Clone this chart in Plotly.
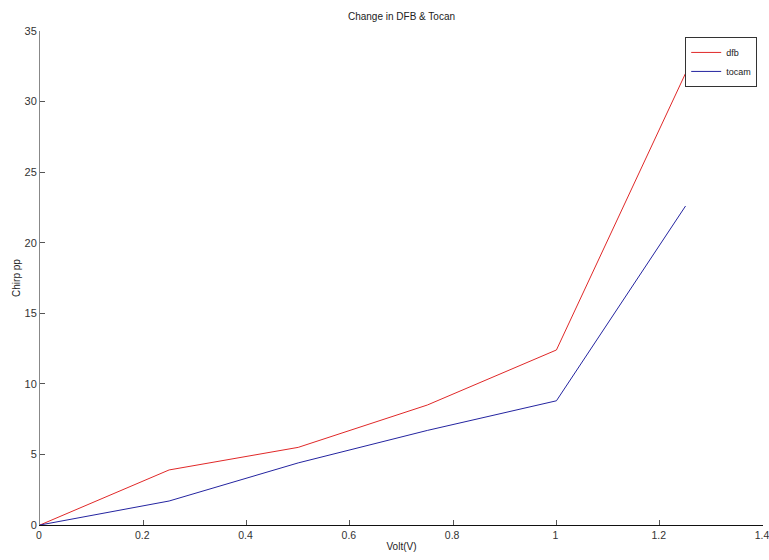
import plotly.graph_objects as go

volt = [0, 0.25, 0.5, 0.75, 1.0, 1.25]
dfb = [0, 3.9, 5.5, 8.5, 12.4, 32.0]
tocam = [0, 1.7, 4.4, 6.7, 8.8, 22.6]

FONT = "Liberation Sans Narrow, Liberation Sans, Arial, sans-serif"

W, H = 769, 560

fig = go.Figure()
fig.add_trace(go.Scatter(x=volt, y=dfb, mode="lines", name="dfb",
                         line=dict(color="#e02828", width=1)))
fig.add_trace(go.Scatter(x=volt, y=tocam, mode="lines", name="tocam",
                         line=dict(color="#2424a0", width=1)))

fig.update_layout(
    width=W, height=H,
    margin=dict(l=40, r=6, t=31, b=35, autoexpand=False),
    paper_bgcolor="white", plot_bgcolor="white",
    font=dict(family=FONT, size=11, color="#333333"),
    title=dict(text="Change in DFB & Tocan", x=(40 + 723 / 2) / W, xanchor="center",
               y=1 - 16 / H, yanchor="middle", font=dict(size=10, color="#222222")),
    showlegend=True,
    legend=dict(x=0.992, y=0.988, xanchor="right", yanchor="top",
                bordercolor="#333333", borderwidth=1, bgcolor="white",
                font=dict(size=9, color="#222222"), itemwidth=30,
                tracegroupgap=0),
)
fig.update_xaxes(range=[0, 1.4], dtick=0.2, tick0=0, ticks="inside", ticklen=5,
                 tickcolor="#555555", showline=True, linecolor="#111111", linewidth=1,
                 showgrid=False, zeroline=False, automargin=False,
                 ticklabeloverflow="allow", ticklabelshift=-1,
                 tickfont=dict(size=10.5),
                 title=dict(text="Volt(V)", standoff=3, font=dict(size=10, color="#222222")))
fig.update_yaxes(range=[0, 35], dtick=5, tick0=0, ticks="inside", ticklen=5,
                 tickcolor="#555555", showline=True, linecolor="#888888", linewidth=1,
                 showgrid=False, zeroline=False, automargin=False,
                 ticklabeloverflow="allow",
                 title=dict(text="Chirp pp", standoff=2, font=dict(size=10, color="#222222")))

fig.write_html("out.html",
               config={"displayModeBar": False},
               post_script="document.body.style.margin='0px';document.body.style.overflow='hidden';")
